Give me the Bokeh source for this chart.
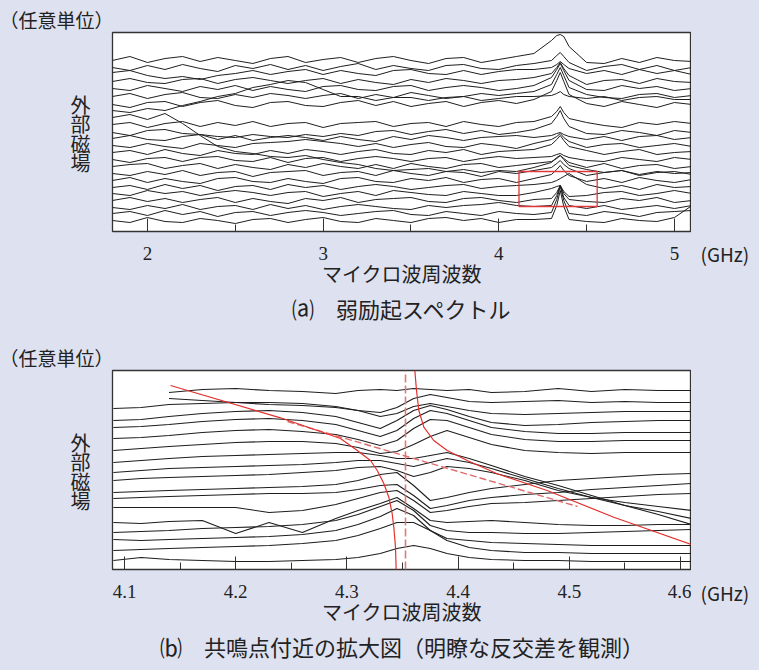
import numpy as np
from bokeh.plotting import figure
from bokeh.models import Range1d, FixedTicker, Label, Title
from bokeh.layouts import column, row
from bokeh.embed import file_html
from bokeh.resources import INLINE

NaN = float("nan")
BG = "#dee1f0"
CJK = "Noto Sans CJK JP"
NUM = "Liberation Sans Narrow"
INK = "#1e1e1e"

# ---------------- panel (a): weak-excitation spectra ----------------
freq_a = [1.8, 1.9, 2.0, 2.1, 2.2, 2.3, 2.4, 2.5, 2.6, 2.7,
          2.8, 2.9, 3.0, 3.1, 3.2, 3.3, 3.4, 3.5, 3.6, 3.7,
          3.8, 3.9, 4.0, 4.1, 4.2, 4.3, 4.33, 4.35, 4.37, 4.4,
          4.5, 4.6, 4.7, 4.8, 4.9, 5.0, 5.1]
offsets_a = [171, 164, 159, 150, 143, 135, 127, 121, 114, 107, 99, 93,
             86, 79, 72, 65, 58, 51, 44, 38, 31, 24, 18, 11]
traces_a = [
    [0,4,-2,2,4,-1,3,0,-3,2, 4,-2,1,3,-2,2,4,0,-3,2, 3,-2,1,4,7,20,25,26,24,14, -2,-3,2,-2,3,0,-1],
    [0,-3,2,-2,3,-1,-4,2,-1,3, -2,2,-3,1,4,-2,2,-1,-3,2, 3,-1,-2,2,4,7,12,15,11,5, -3,1,3,-2,2,-3,0],
    [0,2,-3,-6,-4,-7,-3,-1,2,-2, 1,3,-2,2,-1,-3,2,3,-1,-2, 2,-2,1,3,3,5,8,11,8,4, -1,2,-2,3,-1,2,-2],
    [0,3,-1,-2,2,3,-2,2,4,1, -2,1,3,-2,2,-1,-3,2,-1,3, 1,-2,1,2,4,8,14,19,13,6, -3,1,2,-2,3,0,-1],
    [0,-2,3,0,-3,2,-1,3,-2,2, -1,-3,2,3,-1,-2,2,3,-2,1, 3,1,-2,0,3,11,19,25,18,8, -1,-2,3,0,2,-2,0],
    [0,3,-2,2,4,-1,-2,2,-1,3, 1,-2,1,3,-2,2,-1,4,1,-2, 0,3,1,3,5,12,22,29,21,9, 2,-1,-2,2,3,-1,1],
    [0,-3,2,3,-2,2,4,-1,-3,2, 3,-1,-2,2,4,-1,3,-2,1,3, -2,2,4,1,5,13,24,32,23,10, 1,-2,3,0,-3,2,0],
    [0,-2,2,0,5,9,14,17,23,26, 30,28,21,14,14,10,13,13,10,13, 14,10,12,14,14,15,17,19,16,14, 12,14,10,13,14,11,11],
    [0,3,-2,4,-6,-18,-29,-34,-36,-39, -40,-38,-42,-45,-47,-51,-53,-52,-51,-54, -52,-55,-53,-54,-50,-45,-40,-38,-42,-48, -52,-55,-53,-57,-54,-56,-55],
    [0,2,-3,1,3,-2,2,-1,3,-2, 1,2,-3,1,2,3,-2,1,2,-2, 3,0,-2,2,3,8,13,18,12,6, 2,-1,-3,2,0,3,1],
    [0,-3,2,3,-1,-2,-4,-5,-2,-4, -5,-2,-4,-1,-3,1,2,-2,1,3, -1,2,-2,0,3,9,16,22,14,6, -1,-2,2,0,-3,2,0],
    [0,3,-1,-2,2,4,-1,3,-2,1, 3,1,-2,2,-1,-3,2,-1,3,1, -2,1,2,3,1,3,5,6,4,2, -1,2,-2,2,3,-1,1],
    [0,-2,2,-1,-3,2,0,-2,2,3, 4,6,4,2,-1,2,-2,1,3,-1, -2,2,0,-3,2,6,9,12,8,4, -2,1,2,-2,0,2,-1],
    [0,2,-2,3,-1,-3,2,-1,-2,2, -1,3,1,-2,1,3,-1,-2,2,0, 3,-2,1,2,3,8,13,17,12,6, 2,-2,1,3,-2,0,1],
    [0,-3,1,2,-2,2,3,-1,-2,2, -3,1,2,-2,1,3,1,-2,1,2, -2,1,3,1,2,3,5,6,4,2, -1,-2,2,0,-2,2,0],
    [0,2,3,-2,1,3,-2,2,-1,-3, 2,-1,3,0,-2,2,-2,3,0,-2, 2,3,-1,1,3,5,8,11,8,4, -1,3,-2,1,2,-2,0],
    [0,-2,2,-1,3,-2,1,2,-3,1, 2,3,-2,1,2,-2,3,0,-2,2, 1,-3,2,0,3,6,10,13,9,5, -2,1,3,-2,1,2,-1],
    [0,3,-2,2,-1,-3,2,3,-1,-2, 2,-1,-3,2,3,-1,-2,2,0,3, -2,1,2,-2,2,6,11,15,10,5, -1,2,-2,3,0,-2,1],
    [0,2,-2,3,-1,2,-3,1,2,-2, 3,0,2,-2,1,3,1,-2,0,2, 3,-1,1,2,3,5,7,9,11,14, 3,-1,2,-2,3,0,1],
    [0,-2,3,0,2,-2,1,3,1,-2, 1,2,-3,0,2,-2,3,1,-1,-2, 2,0,-2,-2,1,5,7,8,2,-3, -2,1,2,-2,0,3,0],
    [0,3,-1,2,-2,1,3,-2,2,-1, -3,2,0,3,-2,1,2,3,-1,-2, 2,3,0,-2,1,2,8,15,7,1, -1,-2,2,0,3,-2,0],
    [0,-2,2,-1,3,-2,1,2,-2,3, -1,2,-2,1,3,1,-1,-2,2,0, 2,3,5,2,1,2,12,22,10,2, -1,2,-2,0,2,-1,2],
    [0,2,-2,3,-1,2,-3,1,2,-2, 1,3,1,-2,0,2,3,-1,-2,2, 0,-2,2,0,-1,1,14,27,13,0, -2,2,0,-3,1,2,3],
    [0,-2,3,-1,-2,2,0,-3,1,2, -2,1,3,-1,-2,2,0,-2,2,3, 0,2,-2,1,1,2,15,30,14,1, -1,-2,2,0,-1,3,15],
]
roi_freq = [4.115, 4.56]
roi_level = [25, 60]
ticks_a = [2, 3, 4, 5]
minor_a = [2.5, 3.5, 4.5]
xlim_a = [1.801, 5.097]

# ---------------- panel (b): zoom near resonance ----------------
freq_b = [4.09, 4.115, 4.14, 4.17, 4.20, 4.23, 4.26, 4.29, 4.31, 4.33,
          4.345, 4.36, 4.375, 4.39, 4.41, 4.43, 4.46, 4.49, 4.52, 4.55,
          4.58, 4.61]
offsets_b = [179, 171, 161, 149, 142, 131, 119, 107, 97, 89, 77, 71, 62, 47, 37, 30, 19, 9]
traces_b = [
    [NaN,NaN,-2,1,2,0,-1,-3,0,1, 0,2,1,0,1,-2,-1,2,-1,1, 0,0],
    [NaN,NaN,0,-2,-4,-6,-7,-9,-12,-14, -9,0,4,1,-3,-4,-3,-2,-4,-3, -4,-4],
    [0,1,4,5,6,6,5,2,-2,-8, -5,2,5,2,-2,-5,-6,-5,-4,-3, -3,-3],
    [0,1,4,7,9,10,8,4,-2,-8, 0,10,15,11,4,-2,-5,-4,-2,-1, 0,0],
    [0,1,3,6,8,9,7,3,-3,-9, -3,9,17,14,7,0,-4,-6,-6,-5, -5,-5],
    [0,1,3,6,8,9,7,4,-1,-7, -2,10,19,18,11,4,-1,-3,-3,-2, -2,-2],
    [0,2,4,6,8,9,9,7,3,-3, -1,6,14,20,13,6,0,-2,-3,-2, -2,-2],
    [0,2,4,6,7,8,9,10,10,7, 4,4,7,10,4,-3,-14,-23,-33,-43, -52,-62],
    [0,2,4,5,6,7,8,10,12,12, 9,6,10,14,10,4,-6,-16,-25,-33, -39,-46],
    [0,2,3,4,5,6,8,10,13,14, 10,4,8,14,12,8,0,-10,-17,-22, -26,-30],
    [0,1,2,3,4,5,6,8,12,18, 20,7,-8,-5,0,4,8,12,14,16, 18,19],
    [0,1,2,3,4,5,5,6,9,13, 14,3,-10,-7,-2,1,4,6,9,11, 13,15],
    [0,0,0,0,0,-5,-3,3,9,15, 17,7,-5,-3,1,4,5,7,9,11, 13,14],
    [0,-1,1,2,-11,0,-10,4,12,19, 25,14,2,0,1,2,0,-2,-3,-3, -2,-2],
    [0,1,2,4,5,6,8,12,18,26, 32,22,7,2,0,0,-1,-1,0,1, 2,3],
    [0,-1,0,1,2,3,5,9,15,23, 31,24,9,1,-1,-3,-4,-5,-6,-6, -6,-6],
    [0,1,2,3,4,5,7,10,15,22, 28,28,20,10,3,0,-2,-2,-3,-3, -3,-3],
    [0,3,1,0,-1,-1,0,1,3,7, 12,15,12,7,3,1,0,0,-1,-1, -1,-1],
]
# coupled-mode branches and bare modes
lower_f = [4.1414, 4.2403, 4.2942, 4.3093, 4.3212, 4.3273, 4.3332, 4.3377, 4.3407, 4.3422, 4.3437, 4.3443]
lower_y = [184, 151.7, 131, 119, 109, 99, 86, 72.3, 56, 42.3, 22.3, 0]
upper_f = [4.3611, 4.3626, 4.3647, 4.3692, 4.3781, 4.3902, 4.4082, 4.4352, 4.4801, 4.5400, 4.6096]
upper_y = [199, 179, 159, 142.3, 129, 119, 109, 95.7, 79, 52.3, 25]
magnon_f = [4.2466, 4.5074]
magnon_y = [148, 63]
cavity_f = [4.3527, 4.3527]
cavity_y = [0, 199]
ticks_b = [4.1, 4.2, 4.3, 4.4, 4.5, 4.6]
minor_b = [4.15, 4.25, 4.35, 4.45, 4.55]
xlim_b = [4.0892, 4.6099]

ylim = [0, 199]
field_label_rows = {127: "外", 108: "部", 88: "磁", 69: "場"}


def make_panel(xlim, major, minor, top, bottom, caption):
    p = figure(frame_width=579, frame_height=199,
               x_range=Range1d(*xlim), y_range=Range1d(*ylim),
               output_backend="svg", toolbar_location=None,
               title="（任意単位）",
               min_border_left=112, min_border_right=0,
               min_border_top=top, min_border_bottom=bottom,
               background_fill_color="white", border_fill_color=BG,
               outline_line_color="#333333", outline_line_width=1.3)
    p.grid.visible = False
    # top-left unit note
    p.title.align = "left"
    p.title.offset = -113
    p.title.standoff = 0
    p.title.vertical_align = "bottom"
    p.title.text_font = CJK
    p.title.text_font_size = "19px"
    p.title.text_font_style = "normal"
    p.title.text_color = "#222222"
    # bottom axis
    ax = p.xaxis[0]
    ax.ticker = FixedTicker(ticks=major, minor_ticks=minor)
    ax.axis_line_color = None
    ax.major_tick_in = 13
    ax.major_tick_out = 0
    ax.minor_tick_in = 7
    ax.minor_tick_out = 0
    ax.major_tick_line_color = "#333333"
    ax.minor_tick_line_color = "#333333"
    ax.major_label_text_font = NUM
    ax.major_label_text_font_size = "19px"
    ax.major_label_text_color = "#222222"
    ax.major_label_standoff = 15
    ax.axis_label = "マイクロ波周波数"
    ax.axis_label_text_font = CJK
    ax.axis_label_text_font_size = "20px"
    ax.axis_label_text_font_style = "normal"
    ax.axis_label_text_color = "#222222"
    ax.axis_label_standoff = -4
    # left axis carries the stacked vertical label
    ay = p.yaxis[0]
    ay.ticker = FixedTicker(ticks=list(field_label_rows.keys()))
    ay.major_label_overrides = field_label_rows
    ay.axis_line_color = None
    ay.major_tick_line_color = None
    ay.minor_tick_line_color = None
    ay.major_label_standoff = 16
    ay.major_label_text_font = CJK
    ay.major_label_text_font_size = "20px"
    ay.major_label_text_color = "#222222"
    # caption
    p.add_layout(Title(text=caption, align="center", vertical_align="top", standoff=2,
                       text_font=CJK, text_font_size="22px", text_font_style="normal",
                       text_color="#222222"), "below")
    return p


# panel (a)
pa = make_panel(xlim_a, ticks_a, minor_a, 32, 107, "⒜　弱励起スペクトル")
for off, dev in zip(offsets_a, traces_a):
    pa.line(freq_a, [off + d for d in dev], line_color=INK, line_width=1.0)
pa.quad(left=[roi_freq[0]], right=[roi_freq[1]], bottom=[roi_level[0]], top=[roi_level[1]],
        fill_color=None, line_color="#e0383a", line_width=1.3)

# panel (b)
pb = make_panel(xlim_b, ticks_b, minor_b, 32, 101, "⒝　共鳴点付近の拡大図（明瞭な反交差を観測）")
for off, dev in zip(offsets_b, traces_b):
    pb.line(freq_b, np.array(dev, dtype=float) + off, line_color=INK, line_width=1.1)
pb.line(magnon_f, magnon_y, line_color="#e06a6a", line_width=1.4, line_dash="7 3")
pb.line(cavity_f, cavity_y, line_color="#e07a7a", line_width=1.6, line_dash="8 3")
pb.line(lower_f, lower_y, line_color="#e2302c", line_width=1.2)
pb.line(upper_f, upper_y, line_color="#e2302c", line_width=1.2)

# unit strip to the right of both panels
g = figure(width=68, height=670, x_range=Range1d(0, 68), y_range=Range1d(0, 670),
           x_axis_location=None, y_axis_location=None, min_border=0,
           toolbar_location=None, output_backend="svg",
           background_fill_color=BG, border_fill_color=BG, outline_line_color=None)
g.grid.visible = False
for yy in (417, 78):
    g.add_layout(Label(x=9, y=yy, x_units="screen", y_units="screen", text="(GHz)",
                       text_font=CJK, text_font_size="19px", text_align="left",
                       text_baseline="middle", text_color="#222222"))

layout = row(column(pa, pb, spacing=0), g, spacing=0)
html = file_html(layout, INLINE, title="chart")
html = html.replace("</head>",
                    "<style>html, body { background-color: %s !important; }</style></head>" % BG, 1)
open("out.html", "w").write(html)
